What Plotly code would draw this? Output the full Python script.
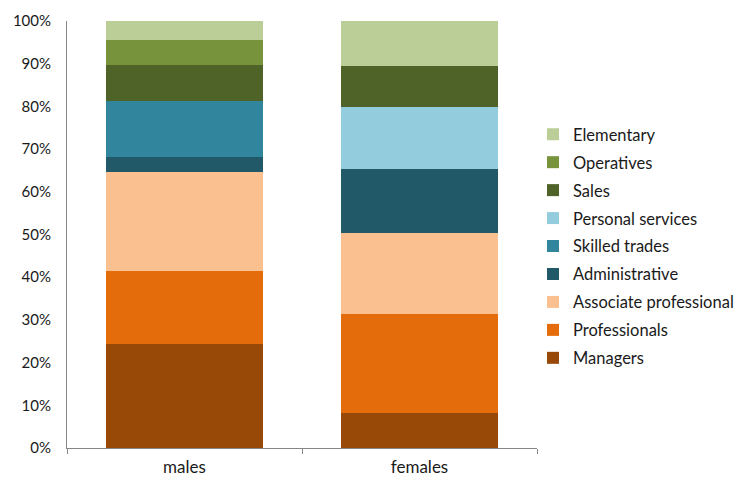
import plotly.graph_objects as go

# Occupational composition, share of employment (%)
groups = ["males", "females"]
occupations = ["Managers", "Professionals", "Associate professional", "Administrative",
               "Skilled trades", "Personal services", "Sales", "Operatives", "Elementary"]
males = [24.4, 17.1, 23.2, 3.4, 13.2, 0.0, 8.4, 5.8, 4.5]
females = [8.1, 23.2, 19.0, 15.1, 0.0, 14.5, 9.6, 0.0, 10.5]
colors = ["#984807", "#E46C0A", "#FAC090", "#215968", "#31859C",
          "#93CDDD", "#4F6228", "#77933C", "#BBCE97"]
y_ticks = [0, 10, 20, 30, 40, 50, 60, 70, 80, 90, 100]
y_tick_text = [f"{v}%" for v in y_ticks]

font_family = "Lato, 'Open Sans', sans-serif"
text_color = "#1a1a1a"

fig = go.Figure()
n = len(occupations)
for i, occ in enumerate(occupations):
    fig.add_trace(go.Bar(
        name=occ,
        x=groups,
        y=[males[i], females[i]],
        marker=dict(color=colors[i], line=dict(width=0)),
        legendgroup=occ,
        legendrank=n - i,
    ))

fig.update_layout(
    barmode="stack",
    bargap=0.335,
    width=735,
    height=479,
    margin=dict(l=67, r=198, t=21, b=31, autoexpand=False),
    plot_bgcolor="white",
    paper_bgcolor="white",
    font=dict(family=font_family, size=15, color=text_color),
    showlegend=True,
    legend=dict(
        traceorder="grouped",
        tracegroupgap=3.5,
        xref="container", yref="container",
        x=533 / 735, y=1 - 117 / 479,
        xanchor="left", yanchor="top",
        maxheight=340,
        font=dict(family=font_family, size=16.5, color=text_color),
        itemwidth=30,
        bgcolor="rgba(0,0,0,0)",
    ),
    xaxis=dict(
        showline=True, linecolor="#868686", linewidth=1,
        ticks="outside", ticklen=5, tickcolor="#868686",
        tickson="boundaries",
        showgrid=False,
        automargin=False,
        tickfont=dict(size=17),
        ticklabelstandoff=4,
    ),
    yaxis=dict(
        range=[0, 100],
        tickvals=y_ticks, ticktext=y_tick_text,
        showline=True, linecolor="#868686", linewidth=1,
        ticks="", showgrid=False, zeroline=False,
        automargin=False,
        ticklabelstandoff=12,
    ),
)

fig.write_html("out.html")
